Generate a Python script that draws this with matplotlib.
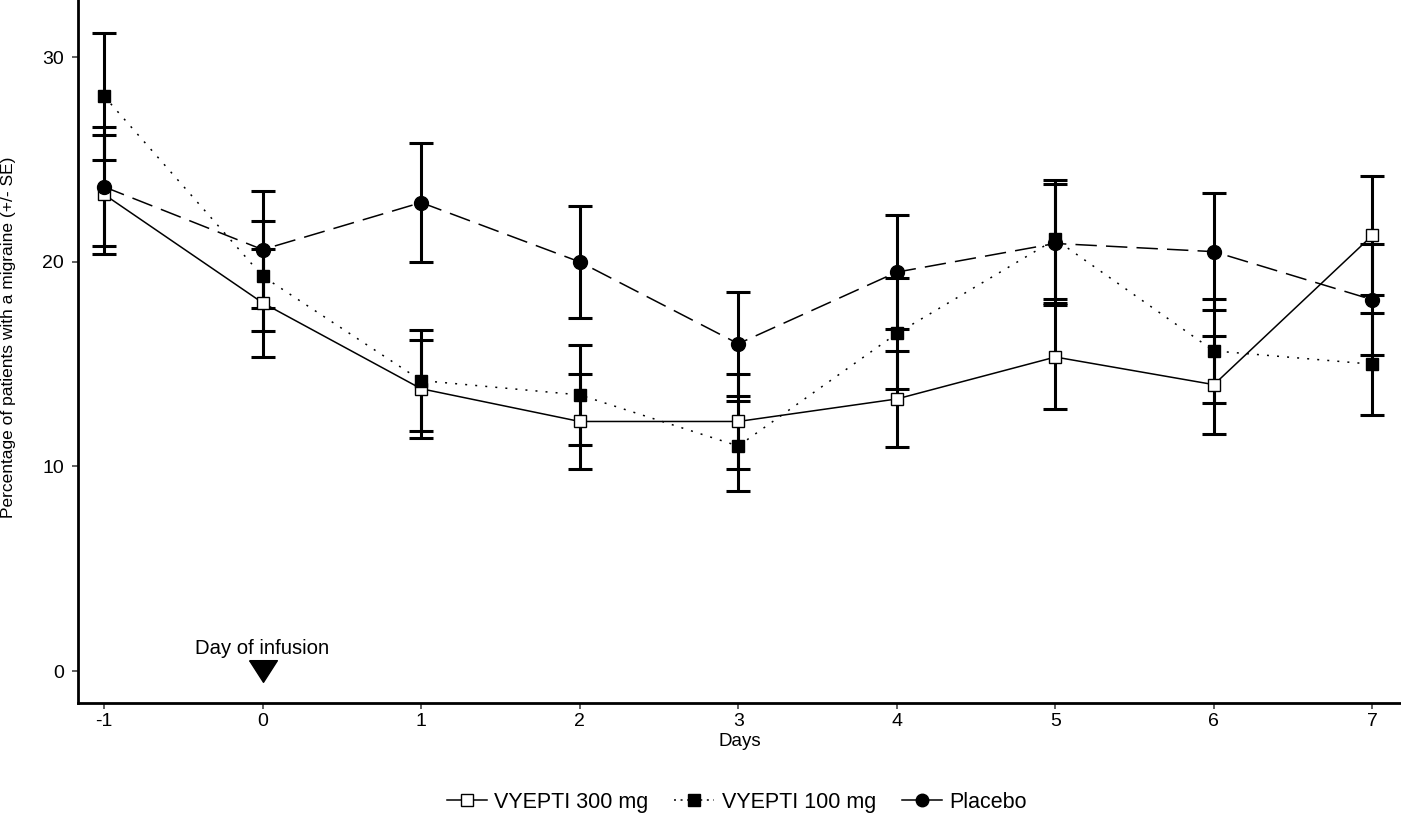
import numpy as np
import matplotlib
matplotlib.use("Agg")
import matplotlib.pyplot as plt
from matplotlib.lines import Line2D

plt.rcParams["font.family"] = ["Liberation Sans", "DejaVu Sans"]

days = [-1, 0, 1, 2, 3, 4, 5, 6, 7]

# percentage of patients with a migraine
vyepti_300 = [23.3, 18.0, 13.8, 12.2, 12.2, 13.3, 15.35, 14.0, 21.3]
vyepti_300_se = [2.9, 2.65, 2.4, 2.3, 2.3, 2.35, 2.55, 2.4, 2.9]
vyepti_100 = [28.1, 19.3, 14.2, 13.5, 11.0, 16.5, 21.1, 15.65, 15.0]
vyepti_100_se = [3.1, 2.7, 2.45, 2.45, 2.2, 2.7, 2.9, 2.55, 2.5]
placebo = [23.67, 20.6, 22.9, 20.0, 16.0, 19.5, 20.9, 20.5, 18.15]
placebo_se = [2.9, 2.85, 2.9, 2.75, 2.55, 2.8, 2.9, 2.85, 2.7]

series_labels = ["VYEPTI 300 mg", "VYEPTI 100 mg", "Placebo"]

fig = plt.figure(figsize=(14.01, 8.13), dpi=100)
ax = fig.add_axes([0.0557, 0.1353, 0.9443, 0.8647])

lw = 1.1
err_kw = dict(fmt="none", ecolor="black", elinewidth=2.2, capsize=8.5,
              capthick=2.2, zorder=2)

ax.errorbar(days, vyepti_300, yerr=vyepti_300_se, **err_kw)
ax.errorbar(days, vyepti_100, yerr=vyepti_100_se, **err_kw)
ax.errorbar(days, placebo, yerr=placebo_se, **err_kw)

ax.plot(days, vyepti_300, color="black", lw=lw, linestyle="-", zorder=3)
ax.plot(days, vyepti_100, color="black", lw=lw, linestyle=(0, (1.3, 5.3)), zorder=3)
ax.plot(days, placebo, color="black", lw=lw, linestyle=(0, (14, 6)), zorder=3)

ax.plot(days, vyepti_300, linestyle="none", marker="s", markersize=9,
        markerfacecolor="white", markeredgecolor="black", markeredgewidth=1.0, zorder=4)
ax.plot(days, vyepti_100, linestyle="none", marker="s", markersize=9,
        markerfacecolor="black", markeredgecolor="black", zorder=4)
ax.plot(days, placebo, linestyle="none", marker="o", markersize=10,
        markerfacecolor="black", markeredgecolor="black", zorder=4)

# day of infusion marker
tri = [(-1, 0.78), (1, 0.78), (0, -0.78), (-1, 0.78)]
ax.plot([0], [0], marker=tri, markersize=20, color="black", linestyle="none", zorder=5)
ax.text(0, 1.12, "Day of infusion", ha="center", va="center", fontsize=14.6)

ax.set_xlim(-1.164, 7.18)
ax.set_ylim(-1.56, 32.8)
ax.set_xticks(days)
ax.set_xticklabels([str(d) for d in days])
ax.set_yticks([0, 10, 20, 30])

for s in ["top", "right"]:
    ax.spines[s].set_visible(False)
for s in ["left", "bottom"]:
    ax.spines[s].set_linewidth(2.0)
ax.tick_params(axis="both", labelsize=14, length=4, width=1.2, color="#444444")
ax.tick_params(axis="y", pad=6)
ax.tick_params(axis="x", pad=3)

ax.set_xlabel("Days", fontsize=13.5, labelpad=2)
ax.set_ylabel("Percentage of patients with a migraine (+/- SE)", fontsize=12.5)
ax.yaxis.set_label_coords(-0.047, 0.52)

handles = [
    Line2D([], [], color="black", lw=lw, linestyle="-", marker="s", markersize=9,
           markerfacecolor="white", markeredgecolor="black", markeredgewidth=1.0),
    Line2D([], [], color="black", lw=lw, linestyle=(0, (1.3, 3)), marker="s", markersize=9,
           markerfacecolor="black"),
    Line2D([], [], color="black", lw=lw, linestyle="-", marker="o", markersize=9,
           markerfacecolor="black"),
]
fig.legend(handles, series_labels, loc="center", bbox_to_anchor=(0.526, 0.0135),
           ncol=3, frameon=False, fontsize=15.5, handlelength=1.85, columnspacing=1.2,
           handletextpad=0.35, borderpad=0)

fig.savefig("out.png", dpi=100)
